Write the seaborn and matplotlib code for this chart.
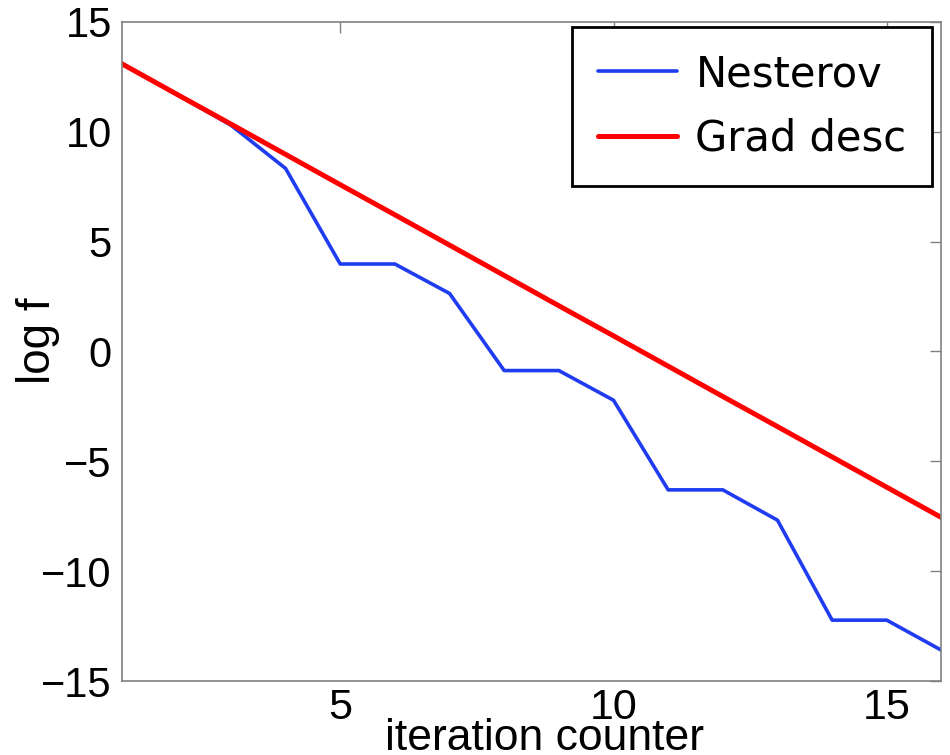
import numpy as np
import pandas as pd
import matplotlib
matplotlib.use("Agg")
import matplotlib.pyplot as plt
import seaborn as sns

# Data
iterations = list(range(1, 17))
nesterov = [13.1, 11.72, 10.3, 8.33, 3.98, 3.98, 2.64, -0.87, -0.87,
            -2.22, -6.3, -6.3, -7.68, -12.23, -12.23, -13.6]
grad_desc = [13.1, 11.72, 10.35, 8.97, 7.59, 6.22, 4.84, 3.46, 2.08,
             0.71, -0.67, -2.05, -3.42, -4.80, -6.18, -7.56]
series_names = ["Nesterov", "Grad desc"]
x_ticks = [5, 10, 15]
y_ticks = [-15, -10, -5, 0, 5, 10, 15]

sns.set_style("white")
plt.rcParams["font.family"] = ["Liberation Sans", "DejaVu Sans"]
plt.rcParams["text.color"] = "black"
plt.rcParams["axes.labelcolor"] = "black"

df = pd.concat([
    pd.DataFrame({"iter": iterations, "val": nesterov, "Method": series_names[0]}),
    pd.DataFrame({"iter": iterations, "val": grad_desc, "Method": series_names[1]}),
], ignore_index=True)

palette = {"Nesterov": "#1f3cf0", "Grad desc": "#ff0000"}
widths = [2.6, 3.6]

fig = plt.figure(figsize=(9.5, 7.55), dpi=100)
ax = fig.add_axes([0.128, 0.098, 0.863, 0.873])

sns.lineplot(data=df, x="iter", y="val", hue="Method", palette=palette,
             ax=ax, legend=False, estimator=None, sort=False)
for line, lw in zip(ax.get_lines(), widths):
    line.set_linewidth(lw)

ax.set_xlim(1, 16)
ax.set_ylim(-15, 15)
ax.set_xticks(x_ticks)
ax.set_yticks(y_ticks)
ax.set_yticklabels(["\u221215", "\u221210", "\u22125", "0", "5", "10", "15"])

ax.tick_params(axis="both", direction="in", length=8, width=1, color="#808080",
               top=True, right=True, labelcolor="black")
ax.tick_params(axis="y", labelsize=30, pad=7)
ax.tick_params(axis="x", labelsize=31, pad=5)
for sp in ax.spines.values():
    sp.set_color("#808080")
    sp.set_linewidth(1.2)

ax.set_xlabel("iteration counter", fontsize=32, va="baseline")
ax.xaxis.set_label_coords(0.516, -0.104)
ax.set_ylabel("log f", fontsize=33, va="center")
ax.yaxis.set_label_coords(-0.102, 0.517)

handles = [plt.Line2D([], [], color=palette[n], lw=l) for n, l in zip(series_names, widths)]
leg = ax.legend(handles, series_names, loc="upper right", bbox_to_anchor=(0.989, 0.992),
                borderaxespad=0, fancybox=False, framealpha=1, edgecolor="black",
                prop={"family": "DejaVu Sans", "size": 30}, handlelength=1.9,
                handletextpad=0.45, labelspacing=0.55, borderpad=0.62)
leg.get_frame().set_linewidth(2)
for t in leg.get_texts():
    t.set_color("black")

plt.savefig("out.png", dpi=100)
plt.close()
